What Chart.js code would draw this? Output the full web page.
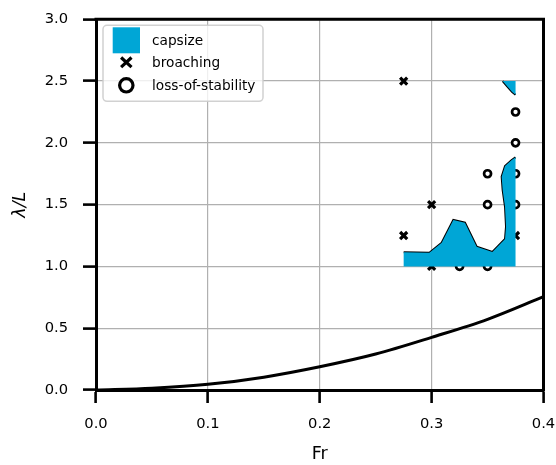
<!DOCTYPE html>
<html>
<head>
<meta charset="utf-8">
<script src="https://cdn.jsdelivr.net/npm/chart.js@4.4.0/dist/chart.umd.min.js"></script>
<style>
  html, body { margin: 0; padding: 0; background: #fff; }
  canvas { display: block; }
</style>
</head>
<body>
<canvas id="fr-chart" width="556" height="465"></canvas>
<script>
// wave length over ship length against Froude number
const curveFr = [0, 0.05, 0.1, 0.15, 0.2, 0.25, 0.3, 0.35, 0.4]
const curveLambda = [0, 0.015, 0.046, 0.104, 0.188, 0.291, 0.426, 0.572, 0.755]

// outline of the capsize region (main part)
const capsizeFr = [0.275, 0.298, 0.309, 0.3194, 0.3298, 0.3403, 0.3543, 0.3656, 0.3665, 0.3656, 0.3635, 0.3626, 0.3656, 0.3716, 0.375]
const capsizeLambda = [1.114, 1.111, 1.192, 1.376, 1.354, 1.16, 1.117, 1.222, 1.322, 1.483, 1.618, 1.726, 1.813, 1.861, 1.883]
// small capsize piece near the top
const capsizeTopFr = [0.3635, 0.3675, 0.372, 0.375]
const capsizeTopLambda = [2.5, 2.458, 2.412, 2.39]

const broachingFr = [0.275, 0.275, 0.3, 0.3, 0.325, 0.375]
const broachingLambda = [2.5, 1.25, 1.5, 1.0, 1.25, 1.25]

const stabilityFr = [0.325, 0.35, 0.35, 0.35, 0.375, 0.375, 0.375, 0.375]
const stabilityLambda = [1.0, 1.0, 1.5, 1.75, 1.5, 1.75, 2.0, 2.25]

const xTicks = [0, 0.1, 0.2, 0.3, 0.4]
const yTicks = [0, 0.5, 1.0, 1.5, 2.0, 2.5, 3.0]
const legendLabels = ['capsize', 'broaching', 'loss-of-stability']

const capsizeColor = '#00A6D6'
const font = 'DejaVu Sans'

function toPoints(xs, ys) {
    return xs.map((x, i) => ({x: x, y: ys[i]}))
}

// closed polygons for the filled region
let mainContour = toPoints(capsizeFr, capsizeLambda)
let mainShape = [{x: capsizeFr[0], y: 1.0}].concat(mainContour, [{x: 0.375, y: 1.0}, {x: capsizeFr[0], y: 1.0}])
let topContour = toPoints(capsizeTopFr, capsizeTopLambda)
let topShape = topContour.concat([{x: 0.375, y: 2.5}, topContour[0]])

// top and right spines, like a matplotlib frame
const frame = {
    id: 'frame',
    afterDatasetsDraw(chart) {
        let {ctx, chartArea: a} = chart
        ctx.save()
        ctx.strokeStyle = '#000'
        ctx.lineWidth = 3
        ctx.lineCap = 'square'
        ctx.beginPath()
        ctx.moveTo(a.left, a.top)
        ctx.lineTo(a.right, a.top)
        ctx.lineTo(a.right, a.bottom)
        ctx.stroke()
        ctx.restore()
    }
}

// legend inside the axes, top left
const legendBox = {
    id: 'legendBox',
    afterDraw(chart) {
        let {ctx, chartArea: a} = chart
        let bx = a.left + 7, by = a.top + 6, bw = 160, bh = 76
        ctx.save()
        ctx.beginPath()
        ctx.roundRect(bx, by, bw, bh, 4)
        ctx.fillStyle = 'rgba(255,255,255,0.8)'
        ctx.fill()
        ctx.strokeStyle = 'rgba(204,204,204,0.9)'
        ctx.lineWidth = 1.5
        ctx.stroke()

        let hx = bx + 23.3
        let rows = [by + 15, by + 37, by + 60]

        ctx.fillStyle = capsizeColor
        ctx.fillRect(hx - 13.6, rows[0] - 13, 27.3, 26)

        ctx.strokeStyle = '#000'
        ctx.lineWidth = 3.2
        ctx.beginPath()
        ctx.moveTo(hx - 5.2, rows[1] - 4.8)
        ctx.lineTo(hx + 5.2, rows[1] + 4.8)
        ctx.moveTo(hx + 5.2, rows[1] - 4.8)
        ctx.lineTo(hx - 5.2, rows[1] + 4.8)
        ctx.stroke()

        ctx.beginPath()
        ctx.arc(hx, rows[2], 6.7, 0, Math.PI * 2)
        ctx.stroke()

        ctx.fillStyle = '#000'
        ctx.font = '13.7px "' + font + '"'
        ctx.textBaseline = 'middle'
        legendLabels.forEach(function(label, i) {
            ctx.fillText(label, bx + 49, rows[i] + 1)
        })
        ctx.restore()
    }
}

let chartCanvas = document.querySelector('#fr-chart')
let ctx = chartCanvas.getContext('2d')

let frChart = new Chart(ctx, {
    type: 'line',
    data: {
        datasets: [
            {
                label: 'curve',
                data: toPoints(curveFr, curveLambda),
                borderColor: '#000',
                borderWidth: 3,
                pointRadius: 0,
                cubicInterpolationMode: 'monotone',
                fill: false
            },
            {
                label: 'capsize',
                data: mainShape,
                backgroundColor: capsizeColor,
                borderWidth: 0,
                pointRadius: 0,
                fill: 'shape'
            },
            {
                label: 'capsize top',
                data: topShape,
                backgroundColor: capsizeColor,
                borderWidth: 0,
                pointRadius: 0,
                fill: 'shape'
            },
            {
                label: 'capsize contour',
                data: mainContour,
                borderColor: '#000',
                borderWidth: 2,
                pointRadius: 0,
                fill: false
            },
            {
                label: 'capsize top contour',
                data: topContour,
                borderColor: '#000',
                borderWidth: 2,
                pointRadius: 0,
                fill: false
            },
            {
                label: 'broaching',
                data: toPoints(broachingFr, broachingLambda),
                showLine: false,
                pointStyle: 'crossRot',
                pointRadius: 5,
                pointBorderWidth: 3.2,
                pointBorderColor: '#000',
                pointBackgroundColor: '#000'
            },
            {
                label: 'loss-of-stability',
                data: toPoints(stabilityFr, stabilityLambda),
                showLine: false,
                pointStyle: 'circle',
                pointRadius: 3.5,
                pointBorderWidth: 2.7,
                pointBorderColor: '#000',
                pointBackgroundColor: '#fff'
            }
        ]
    },
    options: {
        responsive: false,
        animation: false,
        devicePixelRatio: 1,
        layout: {padding: {top: 19.3, right: 12.5, left: 0, bottom: 0}},
        plugins: {
            legend: {display: false},
            tooltip: {enabled: false}
        },
        scales: {
            x: {
                type: 'linear',
                min: 0,
                max: 0.4,
                afterBuildTicks: function(scale) {
                    scale.ticks = xTicks.map(v => ({value: v}))
                },
                afterFit: function(scale) {
                    scale.height = 75
                    scale.paddingLeft = 0
                    scale.paddingRight = 0
                },
                ticks: {
                    callback: v => v.toFixed(1),
                    font: {family: font, size: 14.7},
                    color: '#000',
                    padding: 12,
                    maxRotation: 0
                },
                grid: {
                    color: '#b0b0b0',
                    lineWidth: 1.2,
                    tickColor: '#000',
                    tickWidth: 2.6,
                    tickLength: 13
                },
                border: {color: '#000', width: 3, z: 1},
                title: {
                    display: true,
                    text: 'Fr',
                    font: {family: font, size: 17.5},
                    color: '#000',
                    padding: {top: 0, bottom: 0}
                }
            },
            y: {
                type: 'linear',
                min: 0,
                max: 3,
                afterBuildTicks: function(scale) {
                    scale.ticks = yTicks.map(v => ({value: v}))
                },
                afterFit: function(scale) {
                    scale.width = 96
                    scale.paddingTop = 0
                    scale.paddingBottom = 0
                },
                ticks: {
                    callback: v => v.toFixed(1),
                    font: {family: font, size: 14.7},
                    color: '#000',
                    padding: 15
                },
                grid: {
                    color: '#b0b0b0',
                    lineWidth: 1.2,
                    tickColor: '#000',
                    tickWidth: 2.6,
                    tickLength: 13
                },
                border: {color: '#000', width: 3, z: 1},
                title: {
                    display: true,
                    text: 'λ/L',
                    font: {family: font, size: 17.5, style: 'italic'},
                    color: '#000',
                    padding: {top: 9.5, bottom: 0}
                }
            }
        }
    },
    plugins: [frame, legendBox]
})
</script>
</body>
</html>
